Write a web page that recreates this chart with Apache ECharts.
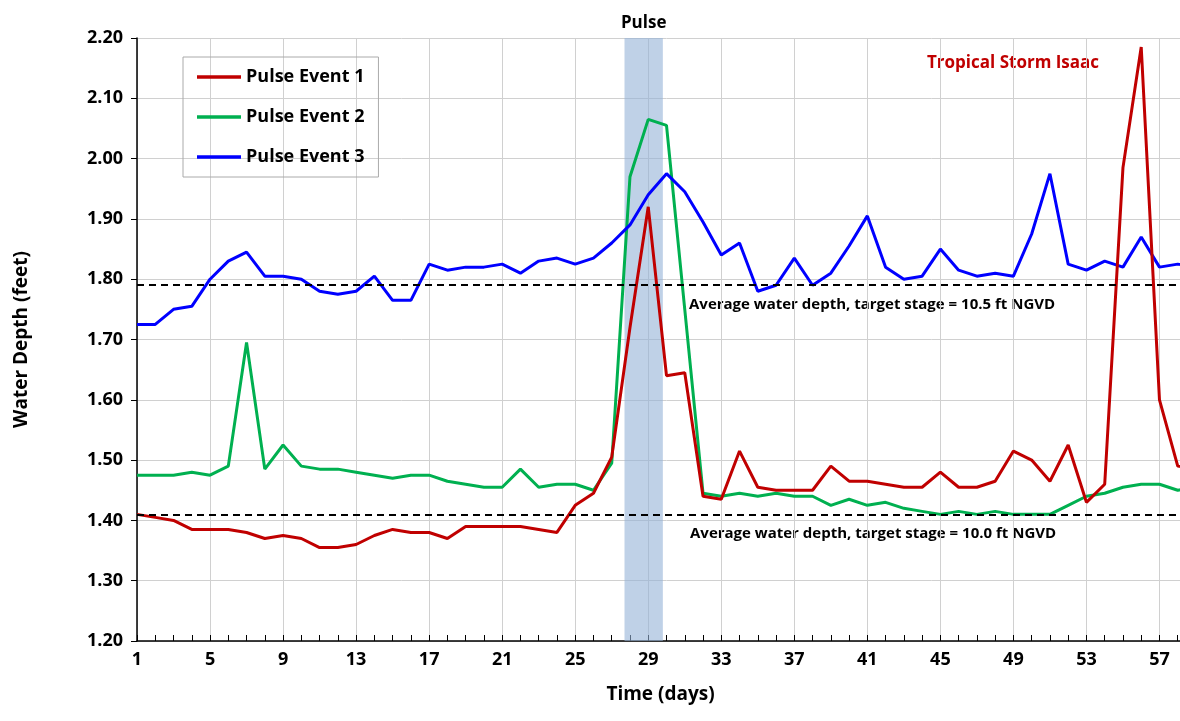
<!DOCTYPE html>
<html>
<head>
<meta charset="UTF-8">
<script src="https://cdn.jsdelivr.net/npm/echarts@6/dist/echarts.min.js"></script>
<style>html,body{margin:0;padding:0;background:#fff;overflow:hidden;width:1180px;height:721px}#main{width:1198px;height:721px}</style>
</head>
<body>
<div id="main"></div>
<script>
var days = [];
for (var d = 1; d <= 59; d++) days.push(String(d));

var event1 = [1.41,1.405,1.40,1.385,1.385,1.385,1.38,1.37,1.375,1.37,1.355,1.355,1.36,1.375,1.385,1.38,1.38,1.37,1.39,1.39,
  1.39,1.39,1.385,1.38,1.425,1.445,1.505,1.72,1.92,1.64,1.645,1.44,1.435,1.515,1.455,1.45,1.45,1.45,1.49,1.465,
  1.465,1.46,1.455,1.455,1.48,1.455,1.455,1.465,1.515,1.50,1.465,1.525,1.43,1.46,1.985,2.185,1.60,1.49,1.485];
var event2 = [1.475,1.475,1.475,1.48,1.475,1.49,1.695,1.485,1.525,1.49,1.485,1.485,1.48,1.475,1.47,1.475,1.475,1.465,1.46,1.455,
  1.455,1.485,1.455,1.46,1.46,1.45,1.495,1.97,2.065,2.055,1.75,1.445,1.44,1.445,1.44,1.445,1.44,1.44,1.425,1.435,
  1.425,1.43,1.42,1.415,1.41,1.415,1.41,1.415,1.41,1.41,1.41,1.425,1.44,1.445,1.455,1.46,1.46,1.45,1.455];
var event3 = [1.725,1.725,1.75,1.755,1.80,1.83,1.845,1.805,1.805,1.80,1.78,1.775,1.78,1.805,1.765,1.765,1.825,1.815,1.82,1.82,
  1.825,1.81,1.83,1.835,1.825,1.835,1.86,1.89,1.94,1.975,1.945,1.895,1.84,1.86,1.78,1.79,1.835,1.79,1.81,1.855,
  1.905,1.82,1.80,1.805,1.85,1.815,1.805,1.81,1.805,1.875,1.975,1.825,1.815,1.83,1.82,1.87,1.82,1.825,1.82];
var avgHigh = 1.79, avgLow = 1.41;
var pulseStart = 27.7, pulseEnd = 29.8;

var font = 'Open Sans';
var myChart = echarts.init(document.getElementById('main'));
var option = {
  animation: false,
  textStyle: { fontFamily: font },
  grid: { left: 137, right: 2, top: 38, bottom: 80 },
  legend: {
    orient: 'vertical', left: 183, top: 57, padding: [11, 14, 11, 14],
    itemWidth: 44, itemGap: 22, borderColor: '#aaa', borderWidth: 1,
    icon: 'path://M0,0 L1,0 L1,0.08 L0,0.08 Z',
    textStyle: { fontSize: 18, fontWeight: 'bold', color: '#000' },
    data: ['Pulse Event 1', 'Pulse Event 2', 'Pulse Event 3']
  },
  xAxis: [{
    type: 'category', data: days, boundaryGap: false,
    name: 'Time (days)', nameLocation: 'middle', nameGap: 44,
    nameTextStyle: { fontSize: 19, fontWeight: 'bold', color: '#000', padding: [0, 12, 0, 0] },
    axisLine: { lineStyle: { color: '#000', width: 1.5 } },
    axisTick: { interval: 0, length: 6, inside: true, lineStyle: { color: '#000' } },
    axisLabel: { interval: 3, fontSize: 18, fontWeight: 'bold', color: '#000', margin: 10 },
    splitLine: { show: true, interval: 3, lineStyle: { color: '#d0d0d0' } }
  }, {
    type: 'value', min: 1, max: 59, show: false
  }],
  yAxis: {
    type: 'value', min: 1.2, max: 2.2, interval: 0.1,
    name: 'Water Depth (feet)', nameLocation: 'middle', nameGap: 106,
    nameTextStyle: { fontSize: 19, fontWeight: 'bold', color: '#000' },
    axisLine: { show: true, lineStyle: { color: '#000', width: 1.5 } },
    axisTick: { show: true, length: 6, lineStyle: { color: '#000' } },
    axisLabel: { fontSize: 18, fontWeight: 'bold', color: '#000', margin: 14, formatter: function (v) { return v.toFixed(2); } },
    splitLine: { lineStyle: { color: '#d0d0d0' } }
  },
  series: [
    { name: 'pulse', type: 'line', xAxisIndex: 1, data: [], z: 1,
      markArea: { silent: true, itemStyle: { color: 'rgba(149,179,215,0.6)' },
        label: { show: true, position: 'top', distance: 6, fontSize: 17, fontWeight: 'bold', color: '#000' },
        data: [[{ name: 'Pulse', xAxis: pulseStart }, { xAxis: pulseEnd }]] } },
    { name: 'Pulse Event 1', type: 'line', data: event1, showSymbol: false, z: 4,
      lineStyle: { color: '#c00000', width: 3 }, itemStyle: { color: '#c00000' },
      markLine: { silent: true, symbol: 'none', label: { show: false },
        lineStyle: { color: '#000', type: [7, 5], width: 1.8 },
        data: [{ yAxis: avgHigh }, { yAxis: avgLow }] } },
    { name: 'Pulse Event 2', type: 'line', data: event2, showSymbol: false, z: 3,
      lineStyle: { color: '#00b050', width: 3 }, itemStyle: { color: '#00b050' } },
    { name: 'Pulse Event 3', type: 'line', data: event3, showSymbol: false, z: 3,
      lineStyle: { color: '#0000ff', width: 3 }, itemStyle: { color: '#0000ff' } }
  ],
  graphic: [
    { type: 'text', left: 689, top: 297, style: { text: 'Average water depth, target stage = 10.5 ft NGVD', fontSize: 15, fontWeight: 'bold', fill: '#000', fontFamily: font } },
    { type: 'text', left: 690, top: 526, style: { text: 'Average water depth, target stage = 10.0 ft NGVD', fontSize: 15, fontWeight: 'bold', fill: '#000', fontFamily: font } },
    { type: 'text', left: 927, top: 55, style: { text: 'Tropical Storm Isaac', fontSize: 17, fontWeight: 'bold', fill: '#c00000', fontFamily: font } }
  ]
};
myChart.setOption(option);
</script>
</body>
</html>
